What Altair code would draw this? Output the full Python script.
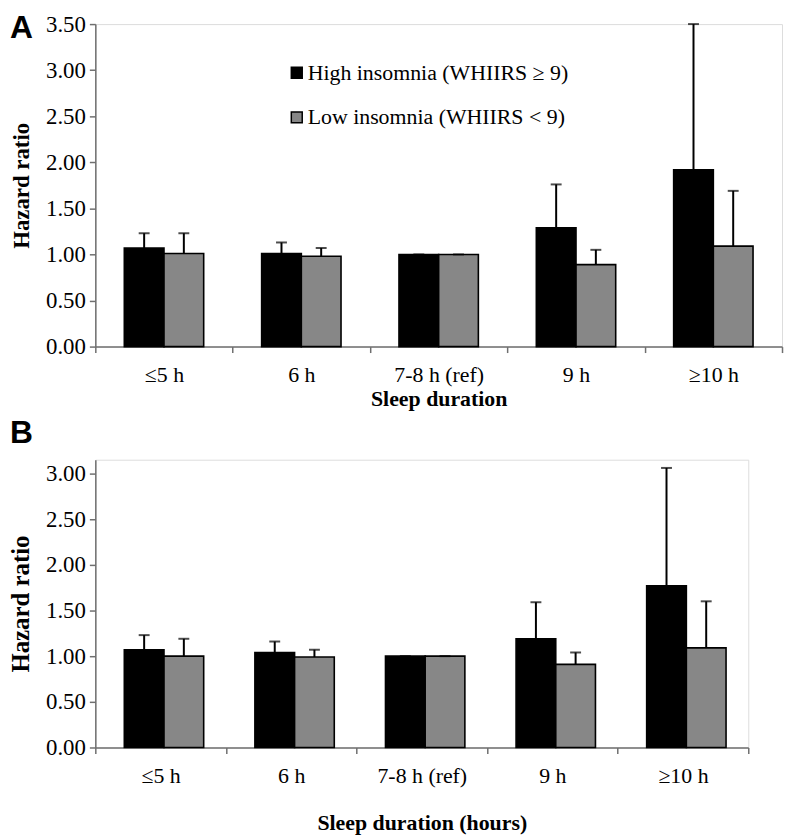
import altair as alt
import pandas as pd

cats = ["≤5 h", "6 h", "7-8 h (ref)", "9 h", "≥10 h"]
groups = ["High insomnia (WHIIRS ≥ 9)", "Low insomnia (WHIIRS < 9)"]

a_high = [1.07, 1.01, 1.00, 1.29, 1.92]
a_high_up = [1.23, 1.13, 1.00, 1.76, 3.50]
a_low = [1.01, 0.98, 1.00, 0.89, 1.09]
a_low_up = [1.23, 1.07, 1.00, 1.05, 1.69]

b_high = [1.07, 1.04, 1.00, 1.19, 1.77]
b_high_up = [1.23, 1.16, 1.00, 1.59, 3.06]
b_low = [1.00, 0.99, 1.00, 0.91, 1.09]
b_low_up = [1.19, 1.07, 1.00, 1.04, 1.60]

a_ticks = [0, 0.5, 1.0, 1.5, 2.0, 2.5, 3.0, 3.5]
b_ticks = [0, 0.5, 1.0, 1.5, 2.0, 2.5, 3.0]

SERIF = "Liberation Serif"
SANS = "Liberation Sans"
GRAY = "#878787"
AXIS = "#6f6f6f"


def frame(high, high_up, low, low_up):
    rows = []
    for c, v, u in zip(cats, high, high_up):
        rows.append({"cat": c, "group": groups[0], "hr": v, "up": u})
    for c, v, u in zip(cats, low, low_up):
        rows.append({"cat": c, "group": groups[1], "hr": v, "up": u})
    return pd.DataFrame(rows)


def panel(df, letter, ymax, ticks, xtitle, width, height, off_pad,
          leg_x, leg_y, row_pad, ytitle_size, xtitle_pad,
          letter_x, letter_y, letter_base):
    xenc = alt.X(
        "cat:N", sort=cats,
        scale=alt.Scale(domain=cats, paddingInner=0, paddingOuter=0),
        axis=alt.Axis(
            title=xtitle, labelAngle=0, tickBand="extent",
            labelFont=SERIF, labelFontSize=22, labelColor="black",
            labelPadding=12, tickSize=6, tickColor=AXIS, tickWidth=1.5,
            domainColor=AXIS, domainWidth=1.5,
            titleFont=SERIF, titleFontSize=22, titleFontWeight="bold",
            titleColor="black", titlePadding=xtitle_pad,
        ),
    )
    xoff = alt.XOffset(
        "group:N",
        scale=alt.Scale(domain=groups, paddingInner=0, paddingOuter=off_pad),
    )
    yscale = alt.Scale(domain=[0, ymax], nice=False, zero=True)
    yenc = alt.Y(
        "hr:Q", scale=yscale,
        axis=alt.Axis(
            title="Hazard ratio", values=ticks, format=".2f", grid=False,
            labelFont=SERIF, labelFontSize=23, labelColor="black",
            labelPadding=4, tickSize=6, tickColor=AXIS, tickWidth=1.5,
            domainColor=AXIS, domainWidth=1.5,
            titleFont=SERIF, titleFontSize=ytitle_size, titleFontWeight="bold",
            titleColor="black", titlePadding=12,
        ),
    )
    base = alt.Chart(df)
    bars = base.mark_bar(stroke="black", strokeWidth=1.6).encode(
        x=xenc, xOffset=xoff, y=yenc,
        color=alt.Color(
            "group:N",
            scale=alt.Scale(domain=groups, range=["#000000", GRAY]),
            legend=alt.Legend(
                title=None, orient="none", legendX=leg_x, legendY=leg_y,
                symbolType="square", symbolSize=121,
                symbolStrokeColor="black", symbolStrokeWidth=1.5,
                symbolOpacity=1,
                labelFont=SERIF, labelFontSize=22, labelColor="black",
                labelOffset=0, rowPadding=row_pad, labelLimit=0,
            ),
        ),
    )
    err = base.mark_rule(color="black", strokeWidth=2).encode(
        x=xenc, xOffset=xoff, y=alt.Y("hr:Q", scale=yscale), y2="up:Q"
    )
    cap = base.mark_tick(color="black", thickness=2, size=11).encode(
        x=xenc, xOffset=xoff, y=alt.Y("up:Q", scale=yscale)
    )
    lab = alt.Chart(pd.DataFrame({"t": [letter]})).mark_text(
        font=SANS, fontSize=32, fontWeight="bold", color="black",
        align="left", baseline=letter_base,
    ).encode(text="t:N", x=alt.value(letter_x), y=alt.value(letter_y))
    return alt.layer(bars, err, cap, lab).properties(width=width, height=height)


dfa = frame(a_high, a_high_up, a_low, a_low_up)
dfb = frame(b_high, b_high_up, b_low, b_low_up)

pa = panel(dfa, "A", 3.5, a_ticks, "Sleep duration", 692, 325, 0.73,
           192, 38, 23, 23, 3, -86, -11, "top")
pb = panel(dfb, "B", 3.15, b_ticks, "Sleep duration (hours)", 658, 290, 0.73,
           166, 33, 14, 25, 27, -86, -17, "alphabetic")

chart = alt.vconcat(pa, pb, spacing=6).properties(
    padding={"left": 0, "top": 0, "right": 0, "bottom": 0}
).configure_view(stroke=None).configure(background="white", font=SERIF)

chart.save("out.html", embed_options={"renderer": "svg", "actions": False})
